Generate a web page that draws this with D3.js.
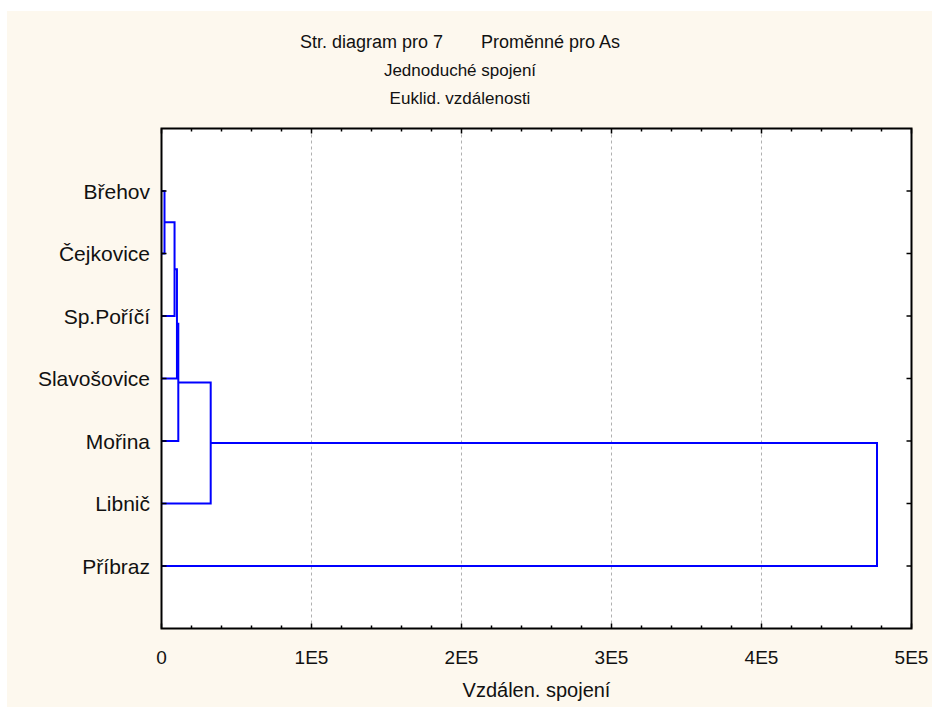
<!DOCTYPE html>
<html>
<head>
<meta charset="utf-8">
<script src="https://cdn.jsdelivr.net/npm/d3@7"></script>
<style>
  html, body { margin: 0; padding: 0; background: #ffffff; }
  svg { display: block; font-family: "Liberation Sans", Arial, sans-serif; }
</style>
</head>
<body>
<svg id="chart" width="932" height="707"></svg>
<script>
// Leaves in display order (top to bottom)
const leaves = ["Břehov", "Čejkovice", "Sp.Poříčí", "Slavošovice", "Mořina", "Libnič", "Příbraz"];

// Single-linkage merges: ids 0..6 are leaves, merge k creates node id 7+k
const mergeLeft  = [0, 7, 8, 9, 10, 11];
const mergeRight = [1, 2, 3, 4, 5, 6];
const mergeDist  = [2000, 8700, 10300, 11200, 32800, 477000];

// Axis ticks
const xTicks = [0, 100000, 200000, 300000, 400000, 500000];
const xTickLabels = ["0", "1E5", "2E5", "3E5", "4E5", "5E5"];
const xMinorStep = 20000;

const titleHead = "Str. diagram pro 7";
const titleTail = "Proměnné pro As";
const subtitleLines = ["Jednoduché spojení", "Euklid. vzdálenosti"];
const xAxisTitle = "Vzdálen. spojení";

const svg = d3.select("#chart");
const plot = { left: 161.5, right: 911.5, top: 128.5, bottom: 628.5 };

// Panel background
svg.append("rect").attr("x", 7).attr("y", 11).attr("width", 925).attr("height", 696)
  .attr("fill", "#fdf8ee");
svg.append("rect").attr("x", plot.left).attr("y", plot.top)
  .attr("width", plot.right - plot.left).attr("height", plot.bottom - plot.top)
  .attr("fill", "#ffffff");

const x = d3.scaleLinear().domain([0, 500000]).range([plot.left, plot.right]);
const y = d3.scalePoint().domain(leaves).range([plot.top, plot.bottom]).padding(1);

// Vertical dashed grid lines at major ticks
svg.append("g").selectAll("line")
  .data(xTicks.slice(1, -1))
  .join("line")
  .attr("x1", d => x(d)).attr("x2", d => x(d))
  .attr("y1", plot.top).attr("y2", plot.bottom)
  .attr("stroke", "#b0b0b0").attr("stroke-width", 1)
  .attr("stroke-dasharray", "3,3");

// Node positions
const nodeX = leaves.map(() => x(0));
const nodeY = leaves.map(d => y(d));
const links = [];
mergeDist.forEach((dist, k) => {
  const a = mergeLeft[k], b = mergeRight[k];
  const xd = x(dist);
  links.push([[nodeX[a], nodeY[a]], [xd, nodeY[a]], [xd, nodeY[b]], [nodeX[b], nodeY[b]]]);
  nodeX.push(xd);
  nodeY.push((nodeY[a] + nodeY[b]) / 2);
});

const line = d3.line();
svg.append("g").selectAll("path")
  .data(links)
  .join("path")
  .attr("d", line)
  .attr("fill", "none")
  .attr("stroke", "#0000ff")
  .attr("stroke-width", 2);

// Ticks (pointing inward) on all four sides
const minor = d3.range(0, 500001, xMinorStep);
const tickG = svg.append("g").attr("stroke", "#000").attr("stroke-width", 1.5);
minor.forEach(v => {
  const isMajor = v % 100000 === 0;
  const len = isMajor ? 5 : 3;
  tickG.append("line").attr("x1", x(v)).attr("x2", x(v))
    .attr("y1", plot.bottom).attr("y2", plot.bottom - len);
  tickG.append("line").attr("x1", x(v)).attr("x2", x(v))
    .attr("y1", plot.top).attr("y2", plot.top + len);
});
leaves.forEach(l => {
  tickG.append("line").attr("x1", plot.left).attr("x2", plot.left + 5)
    .attr("y1", y(l)).attr("y2", y(l));
  tickG.append("line").attr("x1", plot.right).attr("x2", plot.right - 5)
    .attr("y1", y(l)).attr("y2", y(l));
});

// Frame
svg.append("rect").attr("x", plot.left).attr("y", plot.top)
  .attr("width", plot.right - plot.left).attr("height", plot.bottom - plot.top)
  .attr("fill", "none").attr("stroke", "#000").attr("stroke-width", 2);

// Leaf labels
svg.append("g").selectAll("text")
  .data(leaves)
  .join("text")
  .attr("x", 150).attr("y", d => y(d) + 7.5)
  .attr("text-anchor", "end")
  .attr("font-size", 21).attr("fill", "#111")
  .text(d => d);

// X tick labels
svg.append("g").selectAll("text")
  .data(xTicks)
  .join("text")
  .attr("x", d => x(d)).attr("y", 664)
  .attr("text-anchor", "middle")
  .attr("font-size", 19).attr("fill", "#111")
  .text((d, i) => xTickLabels[i]);

// Titles
const titleG = svg.append("g").attr("fill", "#111");
titleG.append("text").attr("x", 300).attr("y", 48).attr("font-size", 18)
  .attr("text-anchor", "start").text(titleHead);
titleG.append("text").attr("x", 620).attr("y", 48).attr("font-size", 18)
  .attr("text-anchor", "end").text(titleTail);
titleG.selectAll("text.sub")
  .data(subtitleLines)
  .join("text")
  .attr("class", "sub")
  .attr("x", 460).attr("y", (d, i) => 76 + i * 28)
  .attr("font-size", 17)
  .attr("text-anchor", "middle")
  .text(d => d);

svg.append("text")
  .attr("x", (plot.left + plot.right) / 2).attr("y", 697)
  .attr("text-anchor", "middle")
  .attr("font-size", 20).attr("fill", "#111")
  .text(xAxisTitle);
</script>
</body>
</html>
